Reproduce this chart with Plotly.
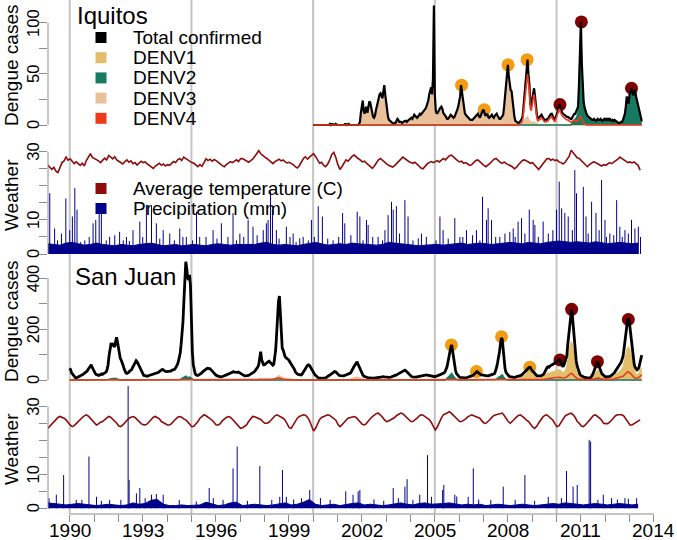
import numpy as np
import plotly.graph_objects as go

# ---------------- data ----------------
# dengue counts, sampled every two weeks (26 values per year)
iq_total_rows = [  # 2000 .. 2013
    [0,0,0,0,0,0,0,0,0,0,0,0,0,0,0,0,0,0,1,0,1,1,0,0,1,0],
    [0,0,0,0,0,0,0,0,1,1,0,1,1,0,0,0,0,0,0,0,0,0,0,1,3,12],
    [20,24,14,11,16,18,12,19,23,22,16,12,8,7,9,14,18,21,27,30,31,27,26,33,39,30],
    [21,12,8,5,4,3,2,2,1,2,2,4,6,5,3,3,3,2,3,3,4,4,3,4,5,6],
    [6,7,6,8,10,9,8,7,8,9,11,10,11,13,14,15,16,18,21,24,30,33,37,30,45,117],
    [30,14,11,12,14,15,17,18,16,12,11,10,8,6,6,7,9,10,9,8,7,8,10,12,15,18],
    [22,28,39,32,24,16,12,10,9,7,6,6,5,5,5,6,7,8,9,10,11,9,7,9,12,14],
    [15,12,9,10,11,8,7,8,9,10,8,7,9,10,11,9,7,6,6,7,8,10,18,30,42,52],
    [59,48,40,34,33,22,14,8,4,3,2,2,2,3,4,6,10,20,36,46,56,64,50,40,20,18],
    [25,30,36,28,15,10,6,7,8,10,10,8,6,5,5,5,6,6,8,10,11,11,8,6,5,7],
    [10,13,18,20,17,13,12,11,10,10,9,8,8,7,7,6,6,8,10,11,11,13,15,18,40,70],
    [101,60,40,22,17,13,11,9,8,7,6,6,5,5,6,5,4,5,6,5,5,6,5,4,5,6],
    [5,6,5,6,5,6,5,4,5,4,5,4,3,3,2,2,2,3,3,5,8,11,18,28,24,21],
    [30,34,36,32,29,33,34,28,24,18,15,10,6,4],
]
iq_first_year = 2000

iq_denv1 = [(2001 + 24/26, [1,2,3,3,2,2,3,2,2,3,2,2,1,1,0])]
iq_denv2 = [(2010 + 16/26, [1,2,3,4,5,7,9,12,32,60,
    92,54,36,19,15,11,10,8,7,6,5,5,4,4,5,4,3,4,5,4,4,5,4,3,4,5,
    4,5,4,5,4,5,4,3,4,3,4,3,2,2,1,1,1,2,2,4,7,10,16,25,22,19,
    27,31,33,29,26,30,31,25,21,16,13,9,5,3])]
iq_denv3 = [(2001 + 23/26, [1,2,9,
    16,19,11,9,13,15,10,15,19,18,13,10,6,6,7,11,15,17,22,25,25,22,21,27,31,24,
    17,10,6,4,3,2,2,1,1,1,2,3,5,4,2,2,2,2,2,2,3,3,2,3,4,5,
    5,6,5,6,8,7,6,6,6,7,9,8,9,10,11,12,13,14,17,19,24,26,29,24,36,56,
    22,11,9,9,11,12,13,14,13,10,9,8,6,5,5,5,7,8,7,6,5,6,8,9,12,14,
    17,22,30,25,19,13,10,8,7,5,5,5,4,4,4,5,5,6,7,8,9,7,5,7,9,11,
    12,9,7,8,8,6,5,6,7,8,6,5,7,8,8,7,5,4,4,5,6,8,14,24,34,42,
    45,38,32,27,26,17,11,6,3,2,1,1,1,1,1,2,3,4,6,6,7,8,6,5,3,2,
    3,3,3,2,2,1,1])]
iq_denv4 = [(2008 + 12/26, [0,1,2,3,6,15,28,38,46,50,42,33,16,14,
    20,25,30,22,12,7,4,5,6,7,7,6,4,3,3,3,4,4,6,7,8,8,6,4,3,5,
    8,10,14,16,13,10,9,8,7,7,6,5,5,4,4,3,3,4,5,5,4,4,4,4,6,8,
    8,5,3,2,1,1,0])]

iq_train_year = [2006.10, 2007.03, 2008.01, 2008.79]
iq_train_cases = [39, 15, 59, 64]
iq_test_year = [2010.14, 2011.02, 2013.08]
iq_test_cases = [20, 101, 36]

sj_total_rows = [  # 1990 .. 2013
    [46,40,28,22,18,12,9,7,8,12,14,16,17,18,20,24,28,30,33,38,45,52,58,60,50,40],
    [35,28,22,20,19,18,20,22,24,22,24,26,28,32,42,60,95,125,140,138,145,135,130,150,168,150],
    [130,100,85,78,70,58,45,35,28,26,27,30,35,38,40,48,55,64,70,76,72,64,55,50,38,28],
    [22,18,17,16,16,15,17,18,19,20,20,22,24,25,26,27,28,30,34,38,40,42,40,36,34,33],
    [33,34,33,33,35,38,39,40,42,47,52,60,72,88,105,140,175,230,314,400,465,440,400,395,413,370],
    [220,110,60,38,25,20,18,18,20,22,25,28,32,36,40,42,44,46,45,46,44,40,35,30,26,22],
    [20,17,15,13,13,12,12,13,14,15,17,19,21,23,25,27,29,31,32,33,31,30,29,30,31,29],
    [26,23,20,18,17,16,16,16,17,18,20,22,24,26,28,32,36,40,45,52,62,90,111,80,65,60],
    [60,64,68,70,72,74,70,65,60,58,62,85,118,180,249,310,330,260,180,125,118,100,92,88,86,82],
    [78,72,65,58,54,50,42,32,26,24,22,21,20,20,22,28,34,42,48,54,58,60,58,52,44,38],
    [33,26,20,15,12,10,8,7,7,6,6,7,7,8,10,12,15,18,20,22,25,28,31,33,32,28],
    [26,20,18,17,16,16,16,17,18,20,22,24,25,26,28,33,40,48,55,60,66,72,62,52,46,36],
    [28,20,15,13,11,10,9,8,8,7,7,7,7,7,8,8,8,9,10,10,11,12,12,13,12,11],
    [10,9,9,10,10,11,12,13,14,15,17,20,22,24,26,28,31,34,36,38,39,36,32,27,22,20],
    [17,14,12,11,10,10,11,12,13,14,15,16,16,17,18,19,20,20,19,18,17,16,15,14,13,13],
    [13,14,15,16,17,19,21,23,25,26,28,33,40,52,70,92,110,128,138,110,80,60,40,26,20,15],
    [12,10,9,8,7,7,8,8,9,10,11,12,13,15,17,19,22,26,30,33,30,26,23,21,20,19],
    [18,17,17,16,16,16,17,18,19,20,22,24,26,35,50,68,85,110,140,165,160,110,72,45,30,24],
    [20,16,13,12,11,10,10,10,11,12,13,14,15,16,18,21,24,28,32,36,39,44,47,50,49,40],
    [36,33,28,24,20,17,16,15,15,16,18,20,22,28,36,44,50,52,50,55,58,60,62,64,66,70],
    [72,75,78,79,76,66,56,52,60,70,78,95,140,180,215,255,278,250,210,150,100,75,55,40,30,22],
    [18,15,13,12,10,9,8,7,7,7,8,12,18,25,32,45,55,66,72,58,45,36,28,22,18,15],
    [13,12,12,13,13,14,16,18,20,25,30,36,39,44,50,55,62,70,82,92,120,144,175,210,236,238],
    [220,190,160,120,85,60,50,45,40,42,50,66,80,98],
]
sj_first_year = 1990

sj_denv1 = [(2008 + 13/26, [6,8,10,12,15,18,21,24,28,30,33,32,26,
    23,21,17,14,11,9,8,7,7,8,9,10,11,14,18,22,26,27,26,28,30,31,32,33,34,36,
    36,38,39,39,38,33,28,26,30,35,40,50,75,98,118,140,150,135,112,80,52,38,28,20,15,11,
    9,7,6,6,5,4,4,3,3,3,4,6,9,13,17,24,30,36,39,31,24,19,15,11,9,7,
    6,6,6,6,6,7,8,9,10,13,16,19,21,24,27,30,34,38,45,50,65,78,95,115,128,131,
    120,104,86,64,45,31,26,23,20,21,25,33,40,48])]
sj_denv2 = [(1991 + 14/26, [1,2,3,4,5,6,7,8,7,6,5,3]),
            (1994 + 14/26, [2,4,6,8,12,14,15,12,10,9,11,8,5,3,1]),
            (2005 + 12/26, [3,6,9,13,18,22,26,20,14,9,5,3,1]),
            (2007 + 13/26, [2,4,7,10,13,16,19,20,14,8,4,2])]
sj_denv3 = [(1997 + 20/26, [3,5,6,5,4,4,
    4,4,5,5,5,5,5,4,4,4,4,6,8,11,14,16,17,14,11,8,8,7,6,6,6,5,
    5,5,4,4,3,3,2]),
            (2001 + 14/26, [3,4,6,7,9,10,11,12,10,8,7,5,4,3,2])]
sj_denv4 = [(1998 + 8/26, [2,3,4,6,8,9,10,9,8,6,5,4,3,3,2,2,1]),
            (2009.0, [2,2,2,1,1,1,1,1,1,1,2,2,2,3,4,5,6,6,6,7,7,8,8,8,9,10,
                      10,11,12,12,11,9,8,7,8,9,10,12,16,20,23,25,26,24,20,15,11,8,6,5,4,3,
                      3,2,2,2,2,1,1,1,1,1,1,2,3,4,5,6,7,8,9,8,6,5,4,3,3,2,
                      2,2,2,2,2,2,3,3,3,4,5,6,6,7,8,9,10,11,13,15,18,22,26,30,33,32,
                      30,26,22,17,12,9,8,7,7,8,10,13,16,20])]

sj_train_year = [2005.68, 2006.71, 2007.74, 2008.90]
sj_train_cases = [138, 33, 170, 50]
sj_test_year = [2010.14, 2010.62, 2011.68, 2012.95]
sj_test_cases = [79, 278, 72, 238]

# monthly average temperature (C), starting 1989.1
weather_start = 1989.1
iq_temp = [
    26.1,25.5,24.8,25.4,24.3,23.9,25.6,26.8,27.3,28.4,27.5,27.9,
    27.2,26.5,27.0,26.4,26.0,26.6,25.8,27.4,28.6,29.4,28.3,28.0,
    27.8,27.3,26.8,27.4,28.1,27.6,28.9,28.4,27.9,28.5,27.6,27.2,
    26.9,26.4,27.1,27.6,26.9,27.3,26.5,26.8,26.1,26.6,27.2,26.8,
    27.0,26.4,26.0,25.6,25.1,25.8,26.2,26.6,26.0,26.4,25.8,26.2,
    26.0,26.5,27.1,26.8,27.6,28.0,27.4,28.4,28.0,27.5,27.0,26.8,
    26.6,26.1,25.6,26.2,25.7,26.8,27.9,27.4,27.8,27.2,27.7,27.4,
    27.0,26.4,25.9,25.6,26.2,26.6,27.1,26.8,27.3,27.6,27.1,27.9,
    28.0,27.6,27.2,26.9,27.4,27.8,28.6,29.6,30.3,29.4,28.8,28.4,
    28.0,27.4,26.8,26.5,27.1,27.4,27.8,27.3,27.6,27.0,26.7,26.9,
    26.6,26.2,25.6,25.2,25.9,26.8,28.0,28.5,27.8,28.4,29.0,29.4,
    28.6,27.4,26.6,26.9,26.0,25.6,26.4,27.6,29.2,29.8,28.3,26.2,
    24.8,25.6,26.8,27.6,27.2,28.0,28.6,29.0,28.4,28.0,27.6,27.0,
    27.2,26.6,26.0,25.6,25.1,25.8,26.9,27.6,28.0,27.4,26.9,26.4,
    26.0,25.8,25.5,25.9,26.6,27.3,27.8,28.4,28.0,27.4,27.1,26.8,
    26.6,26.9,26.3,25.8,25.2,25.0,25.8,26.4,26.8,27.1,26.8,27.2,
    27.4,27.0,27.6,28.0,27.6,28.2,28.8,29.0,28.4,27.8,27.4,27.0,
    27.2,26.6,26.8,26.4,26.0,26.2,26.8,27.4,27.6,27.0,26.4,26.0,
    25.6,26.0,26.6,27.2,27.8,28.0,27.4,26.9,26.6,27.0,26.5,26.2,
    26.0,25.6,25.0,25.4,26.2,26.8,27.4,27.6,27.2,26.9,26.6,26.8,
    26.2,25.4,24.8,25.6,26.4,27.2,27.9,28.0,27.5,27.8,27.4,27.6,
    27.0,26.8,26.4,26.9,27.6,28.6,30.4,29.6,28.9,28.2,28.0,27.4,
    26.8,26.0,25.6,26.2,26.6,27.0,26.8,26.4,26.1,25.8,26.2,26.0,
    26.4,26.8,26.5,26.9,27.3,27.8,28.4,28.0,27.6,27.2,26.8,27.0,
    26.7,27.0,26.6,26.0,24.6,
]
sj_temp = [
    23.6,24.2,24.9,25.6,26.3,26.8,27.1,26.9,26.6,26.1,25.3,24.6,
    24.1,24.4,25.0,25.7,26.1,26.8,27.3,27.6,27.2,26.6,26.0,25.2,
    24.6,24.9,25.4,25.6,26.2,26.8,27.1,26.9,26.3,26.0,25.1,24.3,
    24.1,24.6,25.3,25.9,26.6,26.9,27.1,26.8,26.1,25.6,25.0,24.7,
    24.6,24.9,25.6,26.3,26.9,27.1,26.8,26.4,25.6,25.2,24.8,24.6,
    24.6,25.0,25.7,26.4,26.9,27.1,26.9,26.4,26.1,25.5,24.8,24.1,
    24.2,24.8,25.6,26.6,27.2,27.6,27.3,26.9,26.6,26.0,25.3,24.6,
    24.6,25.0,25.8,26.4,26.8,27.1,26.9,26.3,25.6,25.1,24.4,23.6,
    23.8,24.1,24.6,25.6,26.5,27.1,27.0,26.8,26.6,26.2,25.6,25.1,
    25.1,25.4,26.0,26.7,27.3,27.6,27.3,27.0,26.6,26.0,24.8,23.8,
    23.6,24.6,25.8,26.6,27.1,27.3,27.6,27.5,26.9,25.9,24.2,22.8,
    23.6,25.0,26.2,26.8,27.1,27.3,27.6,27.4,27.0,26.4,26.0,24.8,
    24.1,24.6,25.4,26.0,26.6,26.8,27.0,27.1,26.8,26.2,25.4,24.8,
    24.6,25.0,25.8,26.6,27.1,27.5,28.0,28.1,27.6,26.9,26.1,25.6,
    25.8,26.1,26.3,26.8,27.4,27.8,28.1,27.9,27.3,26.8,26.0,25.6,
    25.6,26.0,26.6,27.2,27.6,27.5,27.0,26.6,26.2,25.4,24.2,23.1,
    24.0,25.4,26.6,27.6,27.9,28.3,28.5,28.0,27.4,26.8,26.0,25.6,
    25.6,25.9,26.4,27.0,27.4,27.6,27.3,27.0,26.7,26.6,25.8,25.2,
    25.1,25.6,26.2,26.9,27.4,27.6,27.7,27.9,28.1,27.4,26.4,25.6,
    25.1,25.6,26.3,26.9,27.4,27.6,27.2,26.6,26.0,25.6,24.8,24.0,
    23.6,24.2,25.2,26.2,26.9,27.4,27.6,27.1,26.6,26.0,25.0,24.1,
    24.4,25.4,26.4,27.2,27.6,27.9,28.1,27.6,26.8,25.6,25.1,24.3,
    24.1,24.6,25.3,26.2,26.9,27.4,27.6,27.2,26.6,26.0,25.1,25.0,
    25.0,25.4,26.1,26.8,27.4,27.6,27.5,27.6,27.2,26.4,25.4,24.6,
    24.6,25.0,25.5,25.9,26.1,
]

# quarterly background precipitation level (mm), starting 1989.1
iq_rain_base = [
    3.0,2.8,2.6,3.2,3.4,3.0,2.6,2.8, 3.2,2.8,2.6,2.4,2.8,2.6,2.4,2.8,
    3.0,3.2,2.8,2.4,2.6,2.8,2.4,2.6, 2.8,2.6,2.4,2.8,3.0,2.8,2.6,2.8,
    2.8,3.0,2.8,3.2,3.4,2.8,2.6,2.8, 2.6,2.4,2.8,3.2,3.4,3.0,2.6,2.8,
    3.0,2.8,3.2,3.0,2.8,2.6,2.6,2.8, 3.4,3.2,3.0,2.8,2.6,2.4,2.6,2.8,
    2.8,2.6,2.8,3.0,3.2,2.8,3.0,3.2, 3.0,2.8,3.0,3.2,3.4,3.2,3.0,3.4,
    3.2,3.0,3.4,3.6,3.8,3.6,3.4,3.6, 3.4,3.2,3.6,3.2,3.0,3.2,3.4,3.2,
    3.0,3.2,
]
sj_rain_base = [
    1.6,1.4,1.2,1.0,1.2,1.4,1.2,1.0, 0.8,1.0,1.2,1.0,0.8,1.0,1.6,1.2,
    1.4,2.4,2.6,1.2,0.8,0.8,1.0,0.8, 0.8,1.0,1.8,1.2,0.8,1.0,1.6,1.8,
    0.8,1.0,1.2,1.0,0.8,1.0,1.4,1.6, 1.0,1.2,1.8,2.6,1.2,0.8,1.0,1.2,
    0.8,1.2,1.4,1.6,1.0,1.2,1.0,0.8, 1.0,1.2,1.6,1.2,1.0,1.4,1.6,1.2,
    1.2,1.4,1.6,1.2,1.0,1.2,1.0,1.2, 0.8,1.0,1.2,1.0,0.8,1.0,1.2,1.0,
    0.8,1.0,1.2,1.4,1.2,1.6,1.4,1.2, 1.0,1.2,1.4,1.2,1.0,1.2,1.4,1.2,
    1.0,1.2,
]

# individual heavy-rain days (year, mm)
iq_rain_year = [
    1989.18,1989.38,1989.5,1989.66,1989.84,1990.0,1990.11,1990.21,1990.3,1990.45,1990.62,1990.8,
    1990.96,1991.07,1991.21,1991.3,1991.5,1991.64,1991.85,1992.05,1992.2,1992.33,1992.45,1992.6,
    1992.88,1993.0,1993.15,1993.36,1993.56,1993.7,1993.84,1994.11,1994.3,1994.52,1994.65,1994.79,
    1995.05,1995.21,1995.34,1995.6,1995.89,1996.05,1996.23,1996.5,1996.71,1996.85,1996.99,1997.15,
    1997.33,1997.53,1997.7,1997.95,1998.08,1998.15,1998.25,1998.33,1998.49,1998.6,1998.9,1999.05,
    1999.18,1999.3,1999.45,1999.59,1999.8,1999.93,2000.05,2000.21,2000.38,2000.6,2000.82,2001.05,
    2001.21,2001.3,2001.55,2001.81,2001.92,2002.05,2002.19,2002.26,2002.45,2002.67,2002.85,2002.95,
    2003.08,2003.22,2003.29,2003.42,2003.55,2003.77,2003.9,2004.1,2004.32,2004.45,2004.65,2004.93,
    2005.05,2005.21,2005.34,2005.55,2005.82,2006.03,2006.15,2006.3,2006.55,2006.71,2006.85,2006.96,
    2007.12,2007.19,2007.33,2007.5,2007.67,2007.88,2008.08,2008.22,2008.3,2008.42,2008.56,2008.7,
    2008.88,2009.04,2009.11,2009.25,2009.45,2009.66,2009.85,2010.0,2010.11,2010.21,2010.34,2010.48,
    2010.65,2010.75,2010.82,2011.1,2011.21,2011.3,2011.44,2011.62,2011.75,2011.85,2011.99,2012.05,
    2012.19,2012.35,2012.47,2012.6,2012.7,2012.81,2012.95,2013.08,2013.22,2013.36,2013.45,
]
iq_rain_mm = [
    17.8,7.5,4.0,6.0,16.3,7.0,11.0,19.3,13.0,3.5,4.0,5.0,
    9.0,10.0,12.0,13.0,4.0,5.0,5.5,6.5,4.0,5.0,3.8,7.0,
    9.5,5.0,14.4,14.0,9.0,4.5,7.0,6.0,4.0,7.5,5.0,5.0,
    4.0,12.4,5.0,5.0,7.0,4.5,9.0,5.0,12.0,4.0,6.0,5.0,
    10.0,8.0,5.5,7.0,9.0,10.0,18.3,13.0,7.0,4.5,8.0,5.0,
    6.0,3.5,4.6,5.0,4.0,10.0,5.0,14.0,11.0,4.5,4.0,5.0,
    12.0,9.0,5.5,12.4,11.0,4.0,10.0,8.5,5.0,5.0,4.0,7.0,
    11.4,15.3,13.0,14.0,6.0,15.8,11.0,4.0,4.6,6.0,5.0,3.0,
    4.0,11.0,7.0,4.5,10.5,5.0,5.0,7.0,5.5,7.0,4.0,16.8,
    10.0,13.4,10.0,5.0,5.0,6.0,6.5,7.5,5.0,9.5,10.5,6.0,
    13.0,10.0,8.5,5.0,9.5,6.0,7.0,13.0,21.2,13.4,12.0,11.0,
    7.0,24.6,17.8,19.7,11.0,6.0,15.3,12.0,7.0,21.7,10.0,5.0,
    6.0,5.5,15.8,8.0,5.0,7.0,6.0,10.0,7.5,8.0,5.0,
]
sj_rain_year = [
    1989.15,1989.45,1989.75,1990.27,1990.5,1990.79,1991.1,1991.3,1991.64,1992.1,1992.4,1992.44,
    1992.74,1992.88,1993.1,1993.36,1993.56,1993.84,1994.5,1995.2,1995.73,1995.9,1996.3,1996.71,
    1996.88,1997.3,1997.81,1998.3,1998.63,1998.74,1998.9,1999.2,1999.52,1999.86,2000.3,2000.7,
    2001.34,2001.64,2001.85,2001.92,2002.5,2002.9,2003.29,2003.5,2003.77,2003.86,2004.1,2004.38,
    2004.7,2004.86,2005.32,2005.37,2005.82,2005.9,2006.37,2006.58,2006.8,2007.3,2007.81,2008.3,
    2008.7,2009.1,2009.66,2010.2,2010.41,2010.68,2010.85,2011.34,2011.4,2011.7,2011.92,2012.26,
    2012.5,2012.81,2012.95,2013.29,
]
sj_rain_mm = [
    3.0,4.0,9.8,2.5,2.5,15.3,3.4,2.2,2.5,2.5,38.0,8.4,
    4.4,6.0,3.0,4.0,4.2,4.0,2.5,2.0,6.0,3.0,2.5,11.8,
    18.2,2.2,12.5,2.5,3.4,11.3,3.4,2.6,3.0,5.4,3.0,2.5,
    5.0,4.0,5.0,5.4,2.6,2.2,6.0,3.0,6.4,8.6,2.5,4.0,
    15.7,3.4,5.4,6.9,4.0,3.5,3.4,11.8,2.6,2.5,6.4,2.5,
    9.8,2.2,3.4,3.0,11.0,6.4,6.9,20.2,19.7,2.5,4.0,3.0,
    2.6,3.0,2.8,3.0,
]

year_ticks = list(range(1990, 2015))
year_labels = list(range(1990, 2015, 3))
decade_marks = [1990, 1995, 2000, 2005, 2010]

# ---------------- helpers ----------------
def rows_to_series(rows, first_year):
    vals = np.concatenate([np.asarray(r, float) for r in rows])
    return first_year + np.arange(len(vals)) / 26.0, vals

def segments_on_grid(segments, grid_x):
    out = np.zeros(len(grid_x))
    for start, vals in segments:
        i0 = int(round((start - grid_x[0]) * 26))
        out[i0:i0 + len(vals)] = vals
    return out

def spikes(years, vals):
    xs, ys = [], []
    for x, v in zip(years, vals):
        xs += [x, x, None]
        ys += [0, v, None]
    return xs, ys

FONT = "Liberation Sans, Arial, Helvetica, sans-serif"
BLACK = "#000000"
C1, C2, C3, C4 = "#E2BE6C", "#167A60", "#E9C29C", "#EE3B1E"
TEMP, RAIN = "#8E0B0B", "#00008B"
ORANGE, DARKRED = "#F39C12", "#7F0000"
AX = "#8C8C8C"

W, H = 677, 540
ML, MR, MT, MB = 48, 20, 0, 26
PW, PH = W - ML - MR, H - MT - MB

def fx(px):
    return (px - ML) / PW

def fy(py):
    return (PH - py) / PH

fig = go.Figure()

def dengue_panel(ax, rows, first_year, d1, d2, d3, d4, tr_x, tr_y, te_x, te_y, lw):
    x, tot = rows_to_series(rows, first_year)
    fig.add_trace(go.Scatter(x=tr_x, y=tr_y, mode="markers", yaxis=ax,
                             marker=dict(size=13, color=ORANGE)))
    fig.add_trace(go.Scatter(x=te_x, y=te_y, mode="markers", yaxis=ax,
                             marker=dict(size=13, color=DARKRED)))
    for seg, col in ((d1, C1), (d3, C3), (d2, C2)):
        fig.add_trace(go.Scatter(x=x, y=segments_on_grid(seg, x), mode="lines", yaxis=ax,
                                 line=dict(color=col, width=1.5), fill="tozeroy",
                                 fillcolor=col))
    fig.add_trace(go.Scatter(x=x, y=tot, mode="lines", yaxis=ax,
                             line=dict(color=BLACK, width=lw)))
    fig.add_trace(go.Scatter(x=x, y=segments_on_grid(d4, x), mode="lines", yaxis=ax,
                             line=dict(color=C4, width=1.6)))

def weather_panel(ax, temp, base, ryear, rmm):
    tx = weather_start + np.arange(len(temp)) / 12.0
    bx = weather_start + np.arange(len(base)) / 4.0
    fig.add_trace(go.Scatter(x=bx, y=base, mode="lines", yaxis=ax, fill="tozeroy",
                             fillcolor=RAIN, line=dict(color=RAIN, width=1)))
    sx, sy = spikes(ryear, rmm)
    fig.add_trace(go.Scatter(x=sx, y=sy, mode="lines", yaxis=ax,
                             line=dict(color=RAIN, width=1)))
    fig.add_trace(go.Scatter(x=tx, y=temp, mode="lines", yaxis=ax,
                             line=dict(color=TEMP, width=1.6)))

dengue_panel("y", iq_total_rows, iq_first_year, iq_denv1, iq_denv2, iq_denv3, iq_denv4,
             iq_train_year, iq_train_cases, iq_test_year, iq_test_cases, 2.2)
weather_panel("y2", iq_temp, iq_rain_base, iq_rain_year, iq_rain_mm)
dengue_panel("y3", sj_total_rows, sj_first_year, sj_denv1, sj_denv2, sj_denv3, sj_denv4,
             sj_train_year, sj_train_cases, sj_test_year, sj_test_cases, 2.8)
weather_panel("y4", sj_temp, sj_rain_base, sj_rain_year, sj_rain_mm)

def yaxis(top, bottom, rng, vals):
    return dict(domain=[fy(bottom), fy(top)], range=rng, anchor="x", automargin=False,
                tickvals=vals, ticktext=[""] * len(vals), ticks="outside", ticklen=8,
                tickcolor=AX, tickwidth=1,
                showgrid=False, zeroline=False, showline=False)

w_vals = [0, 5, 10, 15, 20, 25, 30]

shapes = []
for yr in decade_marks:
    shapes.append(dict(type="line", xref="x", yref="paper", x0=yr, x1=yr, y0=0, y1=1,
                       line=dict(color="#C4C4C4", width=2), layer="below"))
for ax, top in (("y", 100), ("y2", 30), ("y3", 400), ("y4", 30)):
    shapes.append(dict(type="line", xref="paper", x0=0, x1=0, yref=ax, y0=0, y1=top,
                       line=dict(color=AX, width=1)))
shapes.append(dict(type="line", xref="x", x0=1990, x1=2014, yref="paper", y0=0, y1=0,
                   line=dict(color=AX, width=1)))

annotations = []
def text(px, py, s, size, anchor="left", angle=0):
    annotations.append(dict(x=fx(px), y=fy(py), xref="paper", yref="paper", text=s,
                            showarrow=False, xanchor=anchor, yanchor="middle",
                            textangle=angle, font=dict(size=size, color="black", family=FONT)))

def square(px, py, col):
    shapes.append(dict(type="rect", xref="paper", yref="paper",
                       x0=fx(px - 5.5), x1=fx(px + 5.5), y0=fy(py + 5.5), y1=fy(py - 5.5),
                       fillcolor=col, line=dict(width=0)))

# rotated y tick labels, R style
for ax, labels in (("y", [0, 50, 100]), ("y2", [0, 10, 30]),
                   ("y3", [0, 200, 400]), ("y4", [0, 10, 30])):
    for v in labels:
        annotations.append(dict(x=fx(33), xref="paper", y=v, yref=ax, text=str(v),
                                showarrow=False, xanchor="center", yanchor="middle",
                                textangle=-90,
                                font=dict(size=16.5, color="black", family=FONT)))
for yr in year_labels:
    annotations.append(dict(x=yr, xref="x", y=fy(530), yref="paper", text=str(yr),
                            showarrow=False, xanchor="center", yanchor="middle",
                            font=dict(size=19, color="black", family=FONT)))

text(75, 15, "Iquitos", 24)
text(73, 276, "San Juan", 24)
text(11, 66, "Dengue cases", 19, "center", -90)
text(11, 322, "Dengue cases", 19, "center", -90)
text(11, 195, "Weather", 19, "center", -90)
text(11, 449, "Weather", 19, "center", -90)

legend_rows = [("Total confirmed", BLACK), ("DENV1", C1), ("DENV2", C2),
               ("DENV3", C3), ("DENV4", C4)]
for k, (lab, col) in enumerate(legend_rows):
    py = 37.5 + k * 20.2
    square(101, py, col)
    text(131, py, lab, 19)
for k, (lab, col) in enumerate([("Average temperature (C)", TEMP),
                                ("Precipitation (mm)", RAIN)]):
    py = 188.5 + k * 20
    square(101, py, col)
    text(131, py, lab, 19)

fig.update_layout(
    width=W, height=H, margin=dict(l=ML, r=MR, t=MT, b=MB, autoexpand=False),
    paper_bgcolor="white", plot_bgcolor="white", showlegend=False,
    font=dict(family=FONT, color="black"),
    xaxis=dict(domain=[0, 1], range=[1989.108, 2014.127], anchor="y4", automargin=False,
               tickvals=year_ticks, ticktext=[""] * len(year_ticks),
               ticks="outside", ticklen=7, tickcolor=AX,
               showgrid=False, zeroline=False, showline=False),
    yaxis=yaxis(0, 130, [-4.9, 122.5], [0, 25, 50, 75, 100]),
    yaxis2=yaxis(136, 258, [-1.17, 34.6], w_vals),
    yaxis3=yaxis(260, 386, [-23.6, 471.9], [0, 100, 200, 300, 400]),
    yaxis4=yaxis(386, 514, [-1.68, 36.1], w_vals),
    shapes=shapes, annotations=annotations,
)

# the page body has a default 8px margin; drop it so the figure sits at the corner
fig.write_html("out.html", config={"displayModeBar": False},
               post_script="document.body.style.margin='0';")
